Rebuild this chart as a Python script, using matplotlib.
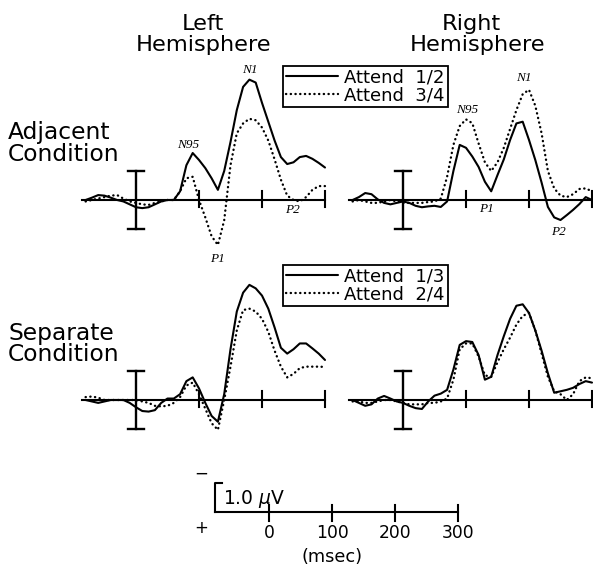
import matplotlib
matplotlib.use("Agg")
import matplotlib.pyplot as plt

# ---------------- data (µV, negative plotted upward) ----------------
time_ms = list(range(-80, 301, 10))

adj_left_attend12 = [0.0, -0.08, -0.17, -0.15, -0.08, 0.0, 0.05, 0.15, 0.25, 0.28, 0.25, 0.15, 0.05, 0.0, 0.0,
                     -0.3, -1.2, -1.62, -1.38, -1.1, -0.75, -0.35, -1.0, -2.0, -3.1, -3.9, -4.15, -4.05, -3.35,
                     -2.7, -2.05, -1.48, -1.24, -1.3, -1.48, -1.52, -1.42, -1.28, -1.12]
adj_left_attend34 = [0.05, 0.0, -0.05, -0.1, -0.15, -0.17, -0.05, 0.05, 0.1, 0.15, 0.17, 0.1, 0.05, 0.0, 0.0,
                     -0.3, -0.75, -0.8, 0.0, 0.6, 1.25, 1.55, 0.7, -1.2, -2.3, -2.64, -2.8, -2.75, -2.5,
                     -2.05, -1.4, -0.7, -0.15, 0.0, 0.05, -0.1, -0.35, -0.48, -0.48]
adj_right_attend12 = [0.0, -0.1, -0.24, -0.2, -0.02, 0.1, 0.15, 0.1, 0.05, 0.1, 0.2, 0.25, 0.22, 0.2, 0.24,
                      0.05, -1.0, -1.9, -1.8, -1.5, -1.14, -0.63, -0.3, -0.86, -1.4, -2.07, -2.64, -2.7, -2.07,
                      -1.38, -0.6, 0.24, 0.6, 0.69, 0.52, 0.34, 0.14, -0.1, 0.0]
adj_right_attend34 = [0.05, 0.0, 0.05, 0.1, 0.1, 0.05, 0.0, 0.05, 0.1, 0.1, 0.1, 0.1, 0.07, 0.05, -0.05,
                      -0.8, -1.9, -2.55, -2.78, -2.65, -1.95, -1.3, -1.0, -1.3, -1.8, -2.45, -3.1, -3.65, -3.8,
                      -3.25, -2.3, -1.0, -0.4, -0.15, -0.1, -0.2, -0.38, -0.4, -0.3]
sep_left_attend13 = [0.0, 0.05, 0.1, 0.05, 0.0, 0.0, 0.0, 0.1, 0.25, 0.38, 0.4, 0.35, 0.1, -0.05, -0.05,
                     -0.2, -0.65, -0.78, -0.4, 0.1, 0.55, 0.75, -0.2, -1.75, -3.05, -3.7, -3.97, -3.85, -3.6,
                     -3.15, -2.5, -1.8, -1.6, -1.75, -1.95, -1.95, -1.78, -1.6, -1.38]
sep_left_attend24 = [-0.1, -0.12, -0.08, 0.0, 0.0, 0.0, 0.0, 0.0, 0.0, 0.05, 0.1, 0.2, 0.22, 0.2, 0.1,
                     -0.1, -0.5, -0.6, -0.2, 0.3, 0.8, 1.03, 0.0, -1.15, -2.4, -3.1, -3.15, -3.05, -2.8,
                     -2.35, -1.7, -1.15, -0.78, -0.9, -1.1, -1.15, -1.15, -1.15, -1.14]
sep_right_attend13 = [0.0, 0.1, 0.2, 0.15, -0.05, -0.14, -0.05, 0.05, 0.1, 0.2, 0.28, 0.31, 0.05, -0.15, -0.22,
                      -0.35, -1.05, -1.9, -2.03, -2.0, -1.55, -0.7, -0.8, -1.55, -2.2, -2.8, -3.25, -3.3, -3.0,
                      -2.4, -1.7, -0.92, -0.25, -0.3, -0.35, -0.42, -0.55, -0.65, -0.6]
sep_right_attend24 = [0.05, 0.05, 0.1, 0.1, 0.05, 0.0, 0.0, 0.05, 0.1, 0.15, 0.15, 0.15, 0.1, 0.1, 0.05,
                      -0.05, -0.7, -1.75, -1.95, -1.95, -1.5, -0.85, -0.8, -1.3, -1.75, -2.15, -2.6, -2.9, -3.0,
                      -2.4, -1.6, -0.8, -0.3, -0.2, 0.0, -0.2, -0.65, -0.78, -0.75]

adj_labels = ["Attend  1/2", "Attend  3/4"]
sep_labels = ["Attend  1/3", "Attend  2/4"]
scale_ticks = [0, 100, 200, 300]
axis_ticks = [100, 200, 300]

# ---------------- layout helpers ----------------
W, H = 593, 568
PX_MS = 0.63
PX_UV = 29.0
XLIM = (-130, 320)
YLIM = (2.6, -4.7)  # bottom, top (inverted: negative up)

fig = plt.figure(figsize=(W / 100, H / 100), dpi=100)
fig.patch.set_facecolor("white")

LW = 1.5
SOLID = dict(color="black", lw=LW, solid_capstyle="round", solid_joinstyle="round")
DOT = dict(color="black", lw=1.7, linestyle=(0, (0.1, 1.9)), dash_capstyle="round")


def make_axes(x0, y0, xlim=XLIM, ylim=YLIM):
    left = x0 + xlim[0] * PX_MS
    width = (xlim[1] - xlim[0]) * PX_MS
    top = y0 + ylim[1] * PX_UV
    height = (ylim[0] - ylim[1]) * PX_UV
    ax = fig.add_axes([left / W, 1 - (top + height) / H, width / W, height / H])
    ax.set_xlim(*xlim)
    ax.set_ylim(*ylim)
    ax.axis("off")
    return ax


def panel(x0, y0, solid, dotted):
    ax = make_axes(x0, y0)
    ax.plot([-85, 300], [0, 0], color="black", lw=LW)
    for t in axis_ticks:
        ax.plot([t, t], [-0.3, 0.25], color="black", lw=LW)
    # calibration bar +-1 uV at stimulus onset
    ax.plot([0, 0], [-1, 1], color="black", lw=LW + 0.2)
    ax.plot([-13, 13], [-1, -1], color="black", lw=LW + 0.2)
    ax.plot([-13, 13], [1, 1], color="black", lw=LW + 0.2)
    l1, = ax.plot(time_ms, solid, **SOLID)
    l2, = ax.plot(time_ms, dotted, **DOT)
    return ax, l1, l2


LAB = dict(fontsize=9.5, fontstyle="italic", family="Liberation Serif", ha="center", va="center")

ax_tl, h1, h2 = panel(136, 200, adj_left_attend12, adj_left_attend34)
ax_tl.text(83, -1.9, "N95", **LAB)
ax_tl.text(181, -4.48, "N1", **LAB)
ax_tl.text(129, 2.05, "P1", **LAB)
ax_tl.text(249, 0.35, "P2", **LAB)

ax_tr, _, _ = panel(403, 200, adj_right_attend12, adj_right_attend34)
ax_tr.text(102, -3.1, "N95", **LAB)
ax_tr.text(192, -4.2, "N1", **LAB)
ax_tr.text(133, 0.31, "P1", **LAB)
ax_tr.text(246, 1.1, "P2", **LAB)

ax_bl, h3, h4 = panel(136, 400, sep_left_attend13, sep_left_attend24)
ax_br, _, _ = panel(403, 400, sep_right_attend13, sep_right_attend24)

# ---------------- headings ----------------
TFONT = dict(fontsize=16.2, family="DejaVu Sans", color="black")
CFONT = dict(fontsize=16.8, family="DejaVu Sans", color="black")
fig.text(203 / W, 1 - 30 / H, "Left", ha="center", va="baseline", **TFONT)
fig.text(204 / W, 1 - 51 / H, "Hemisphere", ha="center", va="baseline", **TFONT)
fig.text(471 / W, 1 - 30 / H, "Right", ha="center", va="baseline", **TFONT)
fig.text(478 / W, 1 - 51 / H, "Hemisphere", ha="center", va="baseline", **TFONT)
fig.text(8 / W, 1 - 139 / H, "Adjacent", ha="left", va="baseline", **CFONT)
fig.text(8 / W, 1 - 161 / H, "Condition", ha="left", va="baseline", **CFONT)
fig.text(8 / W, 1 - 340 / H, "Separate", ha="left", va="baseline", **CFONT)
fig.text(8 / W, 1 - 361 / H, "Condition", ha="left", va="baseline", **CFONT)

# ---------------- legends ----------------
LEG = dict(loc="upper left", borderaxespad=0, frameon=True, fancybox=False, framealpha=1,
           edgecolor="black", handlelength=2.9, handletextpad=0.35, labelspacing=0.0,
           borderpad=0.15, prop=dict(family="DejaVu Sans", size=13))
leg1 = fig.legend([h1, h2], adj_labels, bbox_to_anchor=(283 / W, 1 - 66 / H), **LEG)
leg1.get_frame().set_linewidth(1.3)
leg2 = fig.legend([h3, h4], sep_labels, bbox_to_anchor=(283 / W, 1 - 265 / H), **LEG)
leg2.get_frame().set_linewidth(1.3)

# ---------------- scale bar ----------------
ax_s = make_axes(269, 512, xlim=(-120, 320), ylim=(1.9, -1.6))
ax_s.plot([-85, 300], [0, 0], color="black", lw=LW)
ax_s.plot([-85, -85, -75], [0, -1, -1], color="black", lw=LW)
for t in scale_ticks:
    ax_s.plot([t, t], [-0.25, 0.3], color="black", lw=LW)
    ax_s.text(t, 0.72, str(t), ha="center", va="center", fontsize=12.3, family="DejaVu Sans")
ax_s.text(100, 1.55, "(msec)", ha="center", va="center", fontsize=12.8, family="DejaVu Sans")
ax_s.text(-73, -0.45, r"1.0 $\mu$V", ha="left", va="center", fontsize=13.5, family="DejaVu Sans")
ax_s.text(-108, -1.34, "\u2212", ha="center", va="center", fontsize=12, family="DejaVu Sans")
ax_s.text(-108, 0.55, "+", ha="center", va="center", fontsize=12, family="DejaVu Sans")

fig.savefig("out.png", dpi=100, facecolor="white")
